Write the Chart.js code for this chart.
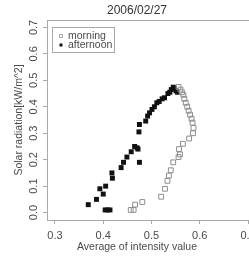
<!DOCTYPE html>
<html>
<head>
<meta charset="utf-8">
<script src="https://cdn.jsdelivr.net/npm/chart.js@4.4.1/dist/chart.umd.min.js"></script>
<style>
  html, body { margin: 0; padding: 0; background: #fff; overflow: hidden; }
  #wrap { width: 249px; height: 257px; overflow: hidden; position: relative; }
  #plot { position: absolute; left: 0; top: 0; }
</style>
</head>
<body>
<div id="wrap"><canvas id="plot" width="274" height="257"></canvas></div>
<script>
const chartTitle = "2006/02/27";
const xTitle = "Average of intensity value";
const yTitle = "Solar radiation[kW/m^2]";
const seriesNames = ["morning", "afternoon"];
const xTicks = [0.3, 0.4, 0.5, 0.6, 0.7];
const yTicks = [0.0, 0.1, 0.2, 0.3, 0.4, 0.5, 0.6, 0.7];

const morningX = [0.457, 0.463, 0.466, 0.481, 0.520, 0.528, 0.533, 0.536, 0.540, 0.545,
  0.556, 0.559, 0.557, 0.565, 0.578, 0.586, 0.587, 0.585, 0.583, 0.580,
  0.577, 0.574, 0.571, 0.568, 0.566, 0.563, 0.560, 0.556];
const morningY = [0.01, 0.01, 0.03, 0.04, 0.06, 0.09, 0.12, 0.14, 0.16, 0.19,
  0.21, 0.22, 0.24, 0.26, 0.28, 0.30, 0.32, 0.34, 0.355, 0.37,
  0.385, 0.40, 0.415, 0.43, 0.445, 0.455, 0.465, 0.475];

const afternoonX = [0.369, 0.386, 0.393, 0.400, 0.405, 0.404, 0.409, 0.414, 0.418, 0.419,
  0.437, 0.442, 0.449, 0.458, 0.465, 0.470, 0.472, 0.475, 0.474, 0.475,
  0.488, 0.492, 0.496, 0.501, 0.506, 0.511, 0.516, 0.522, 0.527, 0.534,
  0.538, 0.541, 0.545, 0.547, 0.551, 0.554];
const afternoonY = [0.03, 0.05, 0.09, 0.07, 0.10, 0.01, 0.01, 0.01, 0.15, 0.13,
  0.17, 0.19, 0.21, 0.23, 0.25, 0.245, 0.24, 0.19, 0.305, 0.333,
  0.346, 0.365, 0.377, 0.39, 0.40, 0.415, 0.42, 0.43, 0.434, 0.45,
  0.455, 0.465, 0.474, 0.47, 0.46, 0.455];

const toPoints = (xs, ys) => xs.map((x, i) => ({ x: x, y: ys[i] }));

const textColor = "#4a4a4a";
const lineColor = "#a8a8a8";
const FONT = "'Liberation Sans', Arial, sans-serif";

// R-style frame, main title, x label and legend box
const rDecor = {
  id: "rDecor",
  afterDraw(chart) {
    const { ctx, chartArea: a } = chart;
    ctx.save();
    ctx.strokeStyle = lineColor;
    ctx.lineWidth = 1;
    ctx.strokeRect(Math.round(a.left) + 0.5, Math.round(a.top) + 0.5,
      Math.round(a.right - a.left), Math.round(a.bottom - a.top));

    ctx.fillStyle = "#333";
    ctx.textAlign = "center";
    ctx.textBaseline = "middle";
    ctx.font = "12px " + FONT;
    ctx.fillText(chartTitle, 137, 11);
    ctx.fillStyle = textColor;
    ctx.font = "10.5px " + FONT;
    ctx.fillText(xTitle, 137, 247);

    // legend
    ctx.strokeStyle = lineColor;
    ctx.strokeRect(52.5, 27.5, 62, 25);
    ctx.textAlign = "left";
    chart.data.datasets.forEach((ds, i) => {
      const cy = 36 + i * 9;
      ctx.beginPath();
      ctx.rect(59.5, cy - 1.5, 3, 3);
      ctx.fillStyle = ds.backgroundColor;
      ctx.fill();
      ctx.strokeStyle = ds.borderColor;
      ctx.lineWidth = i === 0 ? 0.8 : 0;
      if (i === 0) ctx.stroke();
      ctx.fillStyle = textColor;
      ctx.fillText(ds.label, 68, cy + 0.5);
    });
    ctx.restore();
  }
};

new Chart(document.getElementById("plot"), {
  type: "scatter",
  data: {
    datasets: [
      {
        label: seriesNames[0],
        data: toPoints(morningX, morningY),
        pointStyle: "rect",
        pointRadius: 3.4,
        backgroundColor: "rgba(255,255,255,0)",
        borderColor: "#8e8e8e",
        borderWidth: 1,
      },
      {
        label: seriesNames[1],
        data: toPoints(afternoonX, afternoonY),
        pointStyle: "rect",
        pointRadius: 3.5,
        backgroundColor: "#111",
        borderColor: "#111",
        borderWidth: 0,
      },
    ],
  },
  options: {
    responsive: false,
    animation: false,
    devicePixelRatio: 1,
    layout: { padding: { left: 0, right: 18, top: 20, bottom: 0 } },
    plugins: {
      legend: { display: false },
      tooltip: { enabled: false },
    },
    scales: {
      x: {
        type: "linear",
        min: 0.2835,
        max: 0.7165,
        afterBuildTicks: (s) => { s.ticks = xTicks.map((v) => ({ value: v })); },
        afterFit: (s) => { s.height = 37; },
        grid: { drawOnChartArea: false, color: lineColor, tickLength: 4 },
        border: { display: false },
        ticks: {
          color: textColor,
          font: { family: FONT, size: 11 },
          padding: 5,
          maxRotation: 0,
          callback: (v) => v.toFixed(1),
        },
      },
      y: {
        type: "linear",
        min: -0.028,
        max: 0.728,
        afterBuildTicks: (s) => { s.ticks = yTicks.map((v) => ({ value: v })); },
        afterFit: (s) => { s.width = 47; },
        grid: { drawOnChartArea: false, color: lineColor, tickLength: 4 },
        border: { display: false },
        title: {
          display: true,
          text: yTitle,
          color: textColor,
          font: { family: FONT, size: 10.5 },
          padding: { top: 13, bottom: 0 },
        },
        ticks: {
          color: textColor,
          font: { family: FONT, size: 11 },
          padding: 1,
          minRotation: 90,
          maxRotation: 90,
          crossAlign: "center",
          callback: (v) => v.toFixed(1),
        },
      },
    },
  },
  plugins: [rDecor],
});
</script>
</body>
</html>
